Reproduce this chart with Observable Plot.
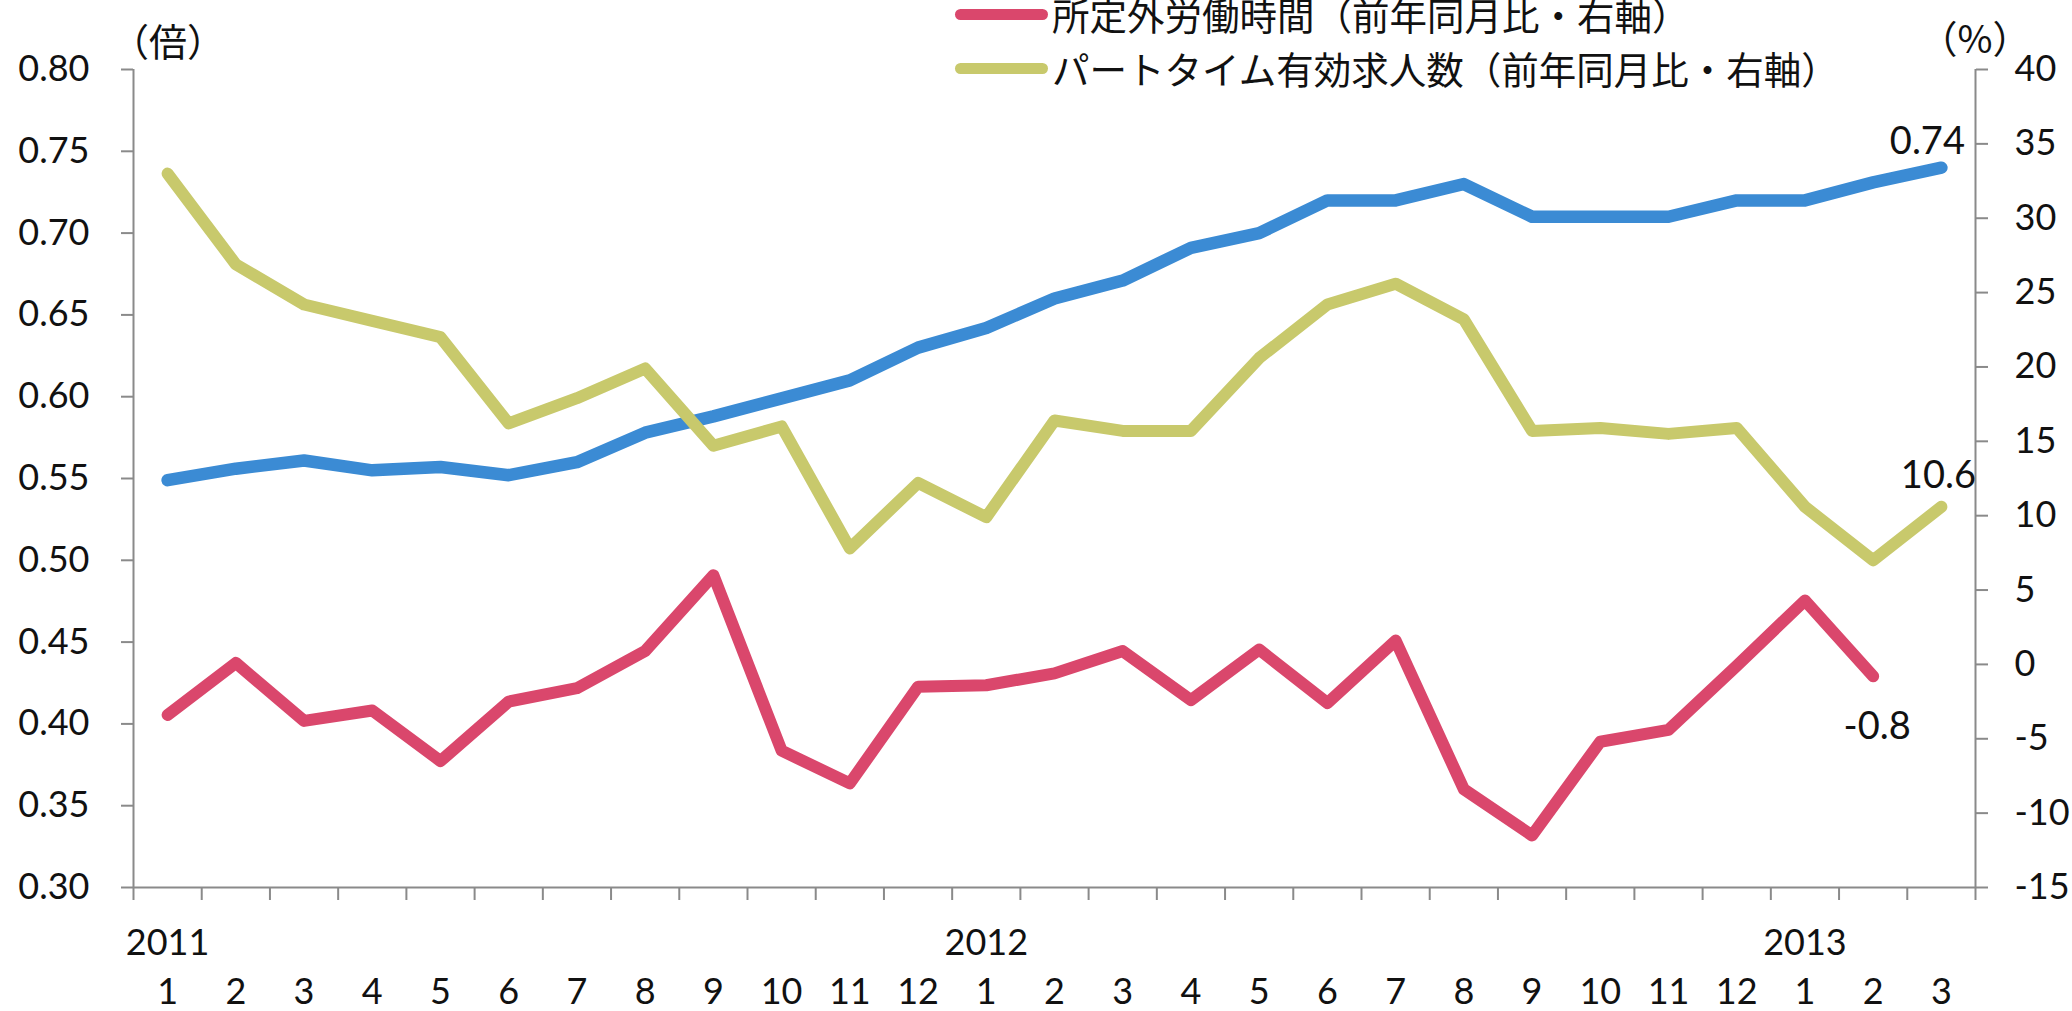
<!DOCTYPE html>
<html>
<head>
<meta charset="utf-8">
<script src="https://cdn.jsdelivr.net/npm/d3@7"></script>
<script src="https://cdn.jsdelivr.net/npm/@observablehq/plot@0.6"></script>
<style>
  html, body { margin: 0; padding: 0; background: #fff; }
  #wrap { position: relative; width: 2072px; height: 1011px; overflow: hidden; background: #fff; }
  .cjk { font-family: "Noto Sans CJK JP", "Noto Sans CJK SC", sans-serif; color: #111; }
  .abs { position: absolute; white-space: nowrap; transform: translate(-50%, -50%); line-height: 1; }
  .legend-row { position: absolute; left: 955px; display: flex; align-items: center; transform: translateY(-50%); height: 40px; }
  .sw { width: 93px; height: 11px; border-radius: 6px; margin-right: 4px; }
  .lt { font-size: 37.5px; line-height: 1; }
</style>
</head>
<body>
<div id="wrap"></div>
<script>
// ---- data ----
const monthLabels = ["1","2","3","4","5","6","7","8","9","10","11","12","1","2","3","4","5","6","7","8","9","10","11","12","1","2","3"];
const yearLabels = ["2011", "2012", "2013"];
const yearIndex = [0, 12, 24];
// 有効求人倍率 (left axis, 倍)
const ratio = [0.549,0.556,0.561,0.555,0.557,0.552,0.560,0.578,0.588,0.599,0.610,0.630,0.642,0.660,0.671,0.691,0.700,0.720,0.720,0.730,0.710,0.710,0.710,0.720,0.720,0.731,0.74];
// 所定外労働時間 前年同月比 (right axis, %)
const overtime = [-3.4,0.1,-3.8,-3.1,-6.5,-2.5,-1.6,0.9,6.0,-5.8,-8.0,-1.5,-1.4,-0.6,0.9,-2.4,1.0,-2.6,1.6,-8.4,-11.5,-5.2,-4.4,-0.1,4.3,-0.8];
// パートタイム有効求人数 前年同月比 (right axis, %)
const parttime = [33.0,26.9,24.2,23.1,22.0,16.2,17.9,19.9,14.7,16.0,7.8,12.2,9.9,16.4,15.7,15.7,20.6,24.2,25.6,23.2,15.7,15.9,15.5,15.9,10.6,7.0,10.6];
const leftTicks = [0.30,0.35,0.40,0.45,0.50,0.55,0.60,0.65,0.70,0.75,0.80];
const rightTicks = [-15,-10,-5,0,5,10,15,20,25,30,35,40];
const legendItems = ["所定外労働時間（前年同月比・右軸）", "パートタイム有効求人数（前年同月比・右軸）"];

// ---- styles ----
const cBlue = "#3b8bd4", cRed = "#da476c", cGold = "#c8c96c", cAxis = "#8a8a8a";
const toLeft = r => 0.30 + (r + 15) / 55 * 0.5;
const rightFmt = v => String(Math.round((v - 0.30) / 0.5 * 55 - 15));
const idx = (d, i) => i;
const boundaries = d3.range(-0.5, 27, 1);

const chart = Plot.plot({
  width: 2072,
  height: 1011,
  marginLeft: 133,
  marginRight: 97,
  marginTop: 69,
  marginBottom: 124,
  style: { fontFamily: "Lato, 'Liberation Sans', sans-serif", fontSize: "36px", color: "#111", background: "transparent" },
  x: { type: "linear", domain: [-0.5, 26.5] },
  y: { domain: [0.30, 0.80] },
  marks: [
    Plot.axisY({ anchor: "left", ticks: leftTicks, tickFormat: d => d.toFixed(2), tickSize: 12, tickPadding: 32, stroke: cAxis, strokeWidth: 2, fill: "#111", label: null }),
    Plot.axisY({ anchor: "right", ticks: rightTicks.map(toLeft), tickFormat: rightFmt, tickSize: 12, tickPadding: 27, stroke: cAxis, strokeWidth: 2, fill: "#111", label: null }),
    Plot.axisX({ anchor: "bottom", ticks: boundaries, tickSize: 13, tickFormat: () => "", stroke: cAxis, strokeWidth: 2, label: null }),
    Plot.axisX({ anchor: "bottom", ticks: yearIndex, tickSize: 0, tickPadding: 42, tickFormat: i => yearLabels[yearIndex.indexOf(i)], fill: "#111", label: null }),
    Plot.axisX({ anchor: "bottom", ticks: d3.range(27), tickSize: 0, tickPadding: 91, tickFormat: i => monthLabels[i], fill: "#111", label: null }),
    Plot.ruleX([-0.5, 26.5], { stroke: cAxis, strokeWidth: 2 }),
    Plot.ruleY([0.30], { stroke: cAxis, strokeWidth: 2 }),
    Plot.line(ratio, { x: idx, y: d => d, stroke: cBlue, strokeWidth: 12.5, strokeLinejoin: "round", strokeLinecap: "round" }),
    Plot.line(overtime, { x: idx, y: d => toLeft(d), stroke: cRed, strokeWidth: 12, strokeLinejoin: "round", strokeLinecap: "round" }),
    Plot.line(parttime, { x: idx, y: d => toLeft(d), stroke: cGold, strokeWidth: 12, strokeLinejoin: "round", strokeLinecap: "round" }),
    Plot.text(ratio, Plot.selectLast({ x: idx, y: d => d, text: d => d.toFixed(2), dx: -14, dy: -26, fontSize: 38, fill: "#111" })),
    Plot.text(parttime, Plot.selectLast({ x: idx, y: d => toLeft(d), text: d => d.toFixed(1), dx: -3, dy: -31, fontSize: 38, fill: "#111" })),
    Plot.text(overtime, Plot.selectLast({ x: idx, y: d => toLeft(d), text: d => d.toFixed(1), dx: 4, dy: 51, fontSize: 38, fill: "#111" }))
  ]
});

const wrap = document.getElementById("wrap");
chart.style.position = "absolute";
chart.style.left = "0";
chart.style.top = "0";
wrap.appendChild(chart);

// unit labels
function addAbs(text, x, y, size) {
  const d = document.createElement("div");
  d.className = "abs cjk";
  d.style.left = x + "px";
  d.style.top = y + "px";
  d.style.fontSize = size + "px";
  d.textContent = text;
  wrap.appendChild(d);
}
addAbs("（倍）", 168, 40, 38);
addAbs("（%）", 1975, 37, 38);

// legend
const legendColors = [cRed, cGold];
const legendY = [14, 68];
legendItems.forEach((t, i) => {
  const row = document.createElement("div");
  row.className = "legend-row cjk";
  row.style.top = legendY[i] + "px";
  const sw = document.createElement("div");
  sw.className = "sw";
  sw.style.background = legendColors[i];
  const tx = document.createElement("span");
  tx.className = "lt";
  tx.textContent = t;
  row.appendChild(sw);
  row.appendChild(tx);
  wrap.appendChild(row);
});
</script>
</body>
</html>
